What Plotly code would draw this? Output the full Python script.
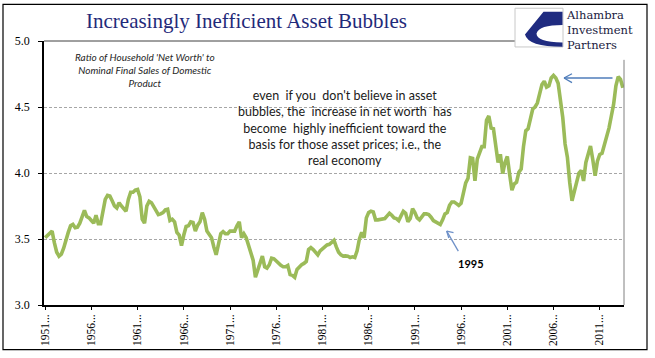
import plotly.graph_objects as go

# ---------------- data ----------------
start_label = "1951 Q4"
ratio = [
    3.51, 3.525, 3.545, 3.56, 3.47, 3.40, 3.37, 3.385, 3.43, 3.50,
    3.55, 3.60, 3.61, 3.585, 3.59, 3.62, 3.67, 3.716, 3.67, 3.66,
    3.64, 3.62, 3.68, 3.615, 3.615, 3.72, 3.80, 3.83, 3.825, 3.79,
    3.75, 3.735, 3.775, 3.75, 3.725, 3.71, 3.80, 3.854, 3.854, 3.87,
    3.875, 3.82, 3.65, 3.62, 3.75, 3.785, 3.775, 3.74, 3.705, 3.685,
    3.69, 3.70, 3.72, 3.725, 3.64, 3.65, 3.63, 3.55, 3.53, 3.45,
    3.53, 3.595, 3.60, 3.63, 3.625, 3.56, 3.605, 3.63, 3.70, 3.65,
    3.56, 3.54, 3.51, 3.44, 3.38, 3.46, 3.54, 3.555, 3.54, 3.54,
    3.56, 3.56, 3.56, 3.60, 3.63, 3.51, 3.54, 3.51, 3.45, 3.41,
    3.34, 3.21, 3.27, 3.33, 3.37, 3.29, 3.28, 3.305, 3.355, 3.35,
    3.33, 3.315, 3.30, 3.29, 3.29, 3.30, 3.23, 3.225, 3.21, 3.27,
    3.29, 3.305, 3.315, 3.33, 3.42, 3.435, 3.42, 3.40, 3.38, 3.41,
    3.43, 3.44, 3.455, 3.46, 3.475, 3.49, 3.44, 3.40, 3.38, 3.37,
    3.372, 3.37, 3.36, 3.365, 3.36, 3.41, 3.50, 3.55, 3.51, 3.66,
    3.70, 3.71, 3.705, 3.645, 3.645, 3.65, 3.648, 3.655, 3.675, 3.695,
    3.68, 3.66, 3.655, 3.64, 3.675, 3.71, 3.695, 3.63, 3.655, 3.73,
    3.70, 3.66, 3.645, 3.665, 3.69, 3.69, 3.685, 3.665, 3.64, 3.63,
    3.62, 3.61, 3.645, 3.69, 3.70, 3.755, 3.78, 3.78, 3.768, 3.755,
    3.77, 3.85, 3.925, 3.96, 4.115, 4.11, 3.94, 4.105, 4.145, 4.20,
    4.20, 4.40, 4.432, 4.34, 4.335, 4.22, 4.08, 4.143, 3.995, 4.08,
    4.125, 3.99, 3.87, 3.917, 3.93, 4.005, 4.03, 4.20, 4.32, 4.335,
    4.40, 4.485, 4.50, 4.53, 4.60, 4.67, 4.695, 4.65, 4.66, 4.72,
    4.739, 4.72, 4.68, 4.55, 4.42, 4.22, 4.12, 3.93, 3.79, 3.86,
    3.93, 4.00, 4.02, 3.94, 4.08, 4.143, 4.205, 4.10, 3.98, 4.09,
    4.14, 4.15, 4.21, 4.256, 4.34, 4.43, 4.52, 4.66, 4.73, 4.71,
    4.646,
]
tick_labels = ["1951...", "1956...", "1961...", "1966...", "1971...", "1976...",
               "1981...", "1986...", "1991...", "1996...", "2001...", "2006...", "2011..."]
y_ticks = [3.0, 3.5, 4.0, 4.5, 5.0]

title_text = "Increasingly Inefficient Asset Bubbles"
subtitle_text = "<i>Ratio of Household 'Net Worth' to<br>Nominal Final Sales of Domestic<br>Product</i>"
note_text = ("even  if you  don't believe in asset<br>bubbles, the  increase in net worth  has<br>"
             "become  highly inefficient toward the<br>basis for those asset prices; i.e., the<br>real economy")
label_1995 = "<b>1995</b>"
logo_text = "Alhambra<br>Investment<br>Partners"

# ---------------- layout constants (pixels) ----------------
W, H = 655, 358
L, R, T, B = 44, 624, 41, 307


def px(xp, yp):
    return (xp - L) / (R - L), (B - yp) / (B - T)


n = len(ratio)
idx = list(range(n))
tick_vals = [i * 20 for i in range(len(tick_labels))]

fig = go.Figure()
fig.add_trace(go.Scatter(x=idx, y=ratio, mode="lines",
                         line=dict(color="#9BBB59", width=3.6), hoverinfo="skip"))

serif = "Liberation Serif, Times New Roman, serif"
sans = "Lato, Carlito, Calibri, sans-serif"

shapes = []
# outer frame
x0, y0 = px(3, 4)
x1, y1 = px(647, 352)
shapes.append(dict(type="rect", xref="paper", yref="paper", x0=x0, y0=y1, x1=x1, y1=y0,
                   line=dict(color="#000000", width=1.2), fillcolor="rgba(0,0,0,0)", layer="above"))
# white backdrop for logo (covers grid at top right)
a = px(514, 5); b = px(645, 59)
shapes.append(dict(type="rect", xref="paper", yref="paper", x0=a[0], y0=b[1], x1=b[0], y1=a[1],
                   line=dict(width=0), fillcolor="#FFFFFF", layer="above"))
# top border & right border of plot area
a = px(44, 41); b = px(515, 41)
shapes.append(dict(type="line", xref="paper", yref="paper", x0=a[0], y0=a[1], x1=b[0], y1=b[1],
                   line=dict(color="#404040", width=1), layer="above"))
a = px(624, 60); b = px(624, 307)
shapes.append(dict(type="line", xref="paper", yref="paper", x0=a[0], y0=a[1], x1=b[0], y1=b[1],
                   line=dict(color="#808080", width=1), layer="above"))
# logo box
a = px(515, 8); b = px(563, 47)
shapes.append(dict(type="rect", xref="paper", yref="paper", x0=a[0], y0=b[1], x1=b[0], y1=a[1],
                   line=dict(color="#C8C8C8", width=1), fillcolor="#FFFFFF", layer="above"))


def pth(points):
    out = []
    for p in points:
        if isinstance(p, str):
            out.append(p)
        else:
            q = px(*p)
            out.append(f"{q[0]:.5f},{q[1]:.5f}")
    return " ".join(out)


swoosh = pth(["M", (562.5, 11.5), "L", (543.5, 11.5), "L", (525, 34.5), "Q", (528, 46.8), (562.5, 46.8),
              "L", (562.5, 42.5), "Q", (536.5, 42), (536.5, 33.5), "Q", (539, 25), (562.5, 25), "Z"])
shapes.append(dict(type="path", xref="paper", yref="paper", path=swoosh,
                   fillcolor="#1F2B80", line=dict(width=0), layer="above"))


def arrow(tail, tip, h1, h2, color):
    res = []
    for s, e in [(tail, tip), (tip, h1), (tip, h2)]:
        p0 = px(*s); p1 = px(*e)
        res.append(dict(type="line", xref="paper", yref="paper", x0=p0[0], y0=p0[1], x1=p1[0], y1=p1[1],
                        line=dict(color=color, width=1.3), layer="above"))
    return res


shapes += arrow((612.5, 78.3), (564, 78.3), (572, 74), (572, 83), "#4F7DBA")
shapes += arrow((458.3, 252.7), (446.7, 232.5), (453.5, 234), (448.8, 239.5), "#6E90C8")

annotations = []
p = px(246.5, 21)
annotations.append(dict(text=title_text, xref="paper", yref="paper", x=p[0], y=p[1], showarrow=False,
                        xanchor="center", yanchor="middle",
                        font=dict(family=serif, size=21, color="#1F2A7A")))
p = px(145, 70)
annotations.append(dict(text=subtitle_text, xref="paper", yref="paper", x=p[0], y=p[1], showarrow=False,
                        xanchor="center", yanchor="middle", align="center",
                        font=dict(family=sans, size=10, color="#262626")))
p = px(345, 128.5)
annotations.append(dict(text=note_text, xref="paper", yref="paper", x=p[0], y=p[1], showarrow=False,
                        xanchor="center", yanchor="middle", align="center",
                        font=dict(family=sans, size=12.5, color="#1A1A1A")))
p = px(471, 265)
annotations.append(dict(text=label_1995, xref="paper", yref="paper", x=p[0], y=p[1], showarrow=False,
                        xanchor="center", yanchor="middle",
                        font=dict(family=sans, size=11, color="#000000")))
p = px(565, 29.5)
annotations.append(dict(text=logo_text, xref="paper", yref="paper", x=p[0], y=p[1], showarrow=False,
                        xanchor="left", yanchor="middle", align="left", borderpad=0,
                        font=dict(family="DejaVu Serif, serif", size=11.5, color="#1A1A40")))

fig.update_layout(
    width=W, height=H,
    margin=dict(l=L, r=W - R, t=T, b=H - B, pad=0),
    paper_bgcolor="#FFFFFF", plot_bgcolor="#FFFFFF",
    showlegend=False,
    shapes=shapes, annotations=annotations,
    xaxis=dict(range=[-0.5, n - 0.5], tickmode="array", tickvals=tick_vals, ticktext=tick_labels,
               tickangle=-90, ticks="outside", ticklen=3, tickcolor="#000000",
               showline=True, linecolor="#000000", linewidth=1.5, showgrid=False, zeroline=False,
               tickfont=dict(family=serif, size=11.5, color="#000000")),
    yaxis=dict(range=[3.0, 5.0], tickmode="array", tickvals=y_ticks, ticktext=[f"{v:.1f}" for v in y_ticks],
               ticks="outside", ticklen=4, tickcolor="#000000", showline=True, linecolor="#000000",
               linewidth=1.5, showgrid=True, gridcolor="#A6A6A6", griddash="3px,2px", gridwidth=1,
               zeroline=False, ticklabelstandoff=6,
               tickfont=dict(family=serif, size=12, color="#000000")),
)

fig.write_html("out.html", config={"displayModeBar": False},
               post_script="document.body.style.margin='0px';document.body.style.padding='0px';")
